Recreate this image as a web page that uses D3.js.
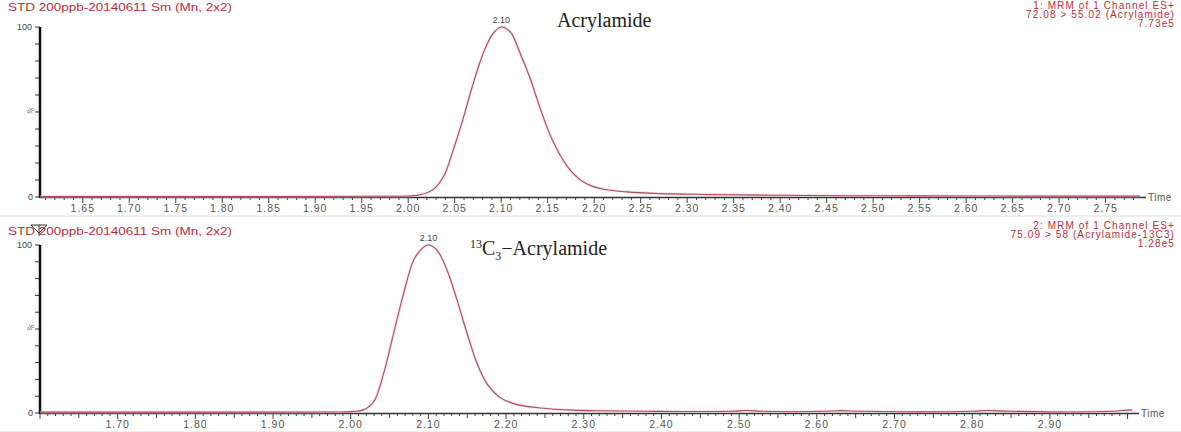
<!DOCTYPE html>
<html><head><meta charset="utf-8">
<script src="https://cdn.jsdelivr.net/npm/d3@7/dist/d3.min.js"></script>
<style>body{margin:0;background:#fff}svg{display:block}</style>
</head><body><svg id="c" width="1181" height="432"></svg>
<script>
// ---- data ----
const topTime = [1.604,1.80,1.98,2.000,2.013,2.027,2.038,2.048,2.059,2.070,2.081,2.091,2.100,2.110,2.120,2.131,2.142,2.153,2.163,2.174,2.188,2.206,2.235,2.271,2.32,2.40,2.50,2.60,2.70,2.787];
const topVals = [0.3,0.3,0.4,0.6,1.3,4.5,12,27,46,67,85,96,100,97,85,70,52,36,25,16,9,5,3,2,1.5,1.0,0.7,0.6,0.5,0.5];
const botTime = [1.60,1.80,1.98,2.00,2.017,2.030,2.042,2.055,2.068,2.081,2.092,2.100,2.111,2.124,2.137,2.150,2.163,2.176,2.193,2.214,2.244,2.287,2.321,2.38,2.49,2.51,2.53,2.61,2.63,2.66,2.80,2.82,2.85,2.98,3.00,3.006];
const botVals = [0.5,0.5,0.6,0.8,2,7,23,47,71,91,98,100,97,85,67,47,29,17,9,5,3,1.7,1.3,1.0,1.0,1.5,1.0,1.0,1.4,1.0,1.0,1.5,1.0,1.0,1.7,1.7];
const topTicks = ["1.65","1.70","1.75","1.80","1.85","1.90","1.95","2.00","2.05","2.10","2.15","2.20","2.25","2.30","2.35","2.40","2.45","2.50","2.55","2.60","2.65","2.70","2.75"];
const botTicks = ["1.70","1.80","1.90","2.00","2.10","2.20","2.30","2.40","2.50","2.60","2.70","2.80","2.90"];
const headerLeft = "STD 200ppb-20140611 Sm (Mn, 2x2)";
const topRight = ["1: MRM of 1 Channel ES+","72.08 > 55.02 (Acrylamide)","7.73e5"];
const botRight = ["2: MRM of 1 Channel ES+","75.09 > 58 (Acrylamide-13C3)","1.28e5"];
const peakLabel = "2.10";

const svg = d3.select("#c");
const red = "#b8303a";
const lineCol = "#b34a5a";
const sans = "Liberation Sans, Arial, sans-serif";

function panel(o){
  const g = svg.append("g");
  const x = d3.scaleLinear().domain(o.xdom).range([40, o.xend]);
  const y = d3.scaleLinear().domain([0,100]).range([o.y0, o.y1]);
  // header
  g.append("text").attr("x",8).attr("y",o.hy).attr("fill",red).attr("font-family",sans).attr("font-size",10).attr("textLength",224).attr("lengthAdjust","spacingAndGlyphs").text(headerLeft);
  o.right.forEach((t,i)=>{
    g.append("text").attr("x",1175).attr("y",o.ry+i*9).attr("text-anchor","end").attr("fill",red).attr("font-family",sans).attr("font-size",10).attr("letter-spacing",1.1).text(t);
  });
  // minor ticks
  const minor = d3.range(Math.ceil(o.xdom[0]*100), Math.floor(o.xdom[1]*100)+1).map(d=>d/100);
  g.append("g").selectAll("line").data(minor).join("line")
    .attr("x1",d=>x(d)).attr("x2",d=>x(d)).attr("y1",o.y0).attr("y2",d=>{
      const h = Math.round(d*100);
      if (h % o.majorStep===0) return o.y0+6;
      if (h % 5===0) return o.y0+5;
      return o.y0+3;})
    .attr("stroke","#444").attr("stroke-width",1);
  // x axis line
  g.append("line").attr("x1",40).attr("x2",o.xend+6).attr("y1",o.y0+0.5).attr("y2",o.y0+0.5).attr("stroke","#333").attr("stroke-width",1.5);
  // tick labels
  g.append("g").selectAll("text").data(o.ticks).join("text")
    .attr("x",d=>x(+d)).attr("y",o.y0+15).attr("text-anchor","middle").attr("fill","#555")
    .attr("font-family",sans).attr("font-size",10.5).attr("letter-spacing",1).text(d=>d);
  g.append("text").attr("x",o.xend+8).attr("y",o.y0+4).attr("fill","#555").attr("font-family",sans).attr("font-size",10).attr("letter-spacing",0.5).text("Time");
  // y axis
  g.append("g").selectAll("line").data(d3.range(0,101,10)).join("line")
    .attr("x1",35).attr("x2",40).attr("y1",d=>y(d)).attr("y2",d=>y(d)).attr("stroke","#333");
  g.append("line").attr("x1",40).attr("x2",40).attr("y1",o.y1).attr("y2",o.y0+1).attr("stroke","#111").attr("stroke-width",2.5);
  g.append("text").attr("x",32).attr("y",y(100)+3).attr("text-anchor","end").attr("fill","#444").attr("font-family",sans).attr("font-size",9).text("100");
  g.append("text").attr("x",33).attr("y",y(0)+3).attr("text-anchor","end").attr("fill","#444").attr("font-family",sans).attr("font-size",9).text("0");
  g.append("text").attr("transform",`translate(33,${y(50)}) rotate(-60)`).attr("text-anchor","middle").attr("fill","#666").attr("font-family",sans).attr("font-size",8).text("%");
  // trace
  const line = d3.line().x((d,i)=>x(o.t[i])).y(d=>y(d)).curve(d3.curveCatmullRom.alpha(0.5));
  g.append("path").datum(o.v).attr("d",line).attr("fill","none").attr("stroke","#ecc0c8").attr("stroke-width",2.6).attr("opacity",0.5);
  g.append("path").datum(o.v).attr("d",line).attr("fill","none").attr("stroke",lineCol).attr("stroke-width",1.1);
  // peak label
  const pk = o.v.indexOf(d3.max(o.v));
  g.append("text").attr("x",x(o.t[pk])).attr("y",y(100)-4).attr("text-anchor","middle").attr("fill","#444").attr("font-family",sans).attr("font-size",9).text(peakLabel);
  // separator
  g.append("line").attr("x1",0).attr("x2",1181).attr("y1",o.y0+19).attr("y2",o.y0+19).attr("stroke","#ddd");
  return {x,y,g};
}

const p1 = panel({xdom:[1.604,2.787], xend:1140, y0:197, y1:27, hy:11, ry:9, right:topRight, ticks:topTicks, majorStep:5, t:topTime, v:topVals});
const p2 = panel({xdom:[1.60,3.007], xend:1133, y0:413, y1:245, hy:235, ry:229, right:botRight, ticks:botTicks, majorStep:10, t:botTime, v:botVals});

// compound titles
svg.append("text").attr("x",557).attr("y",27).attr("font-family","Liberation Serif, DejaVu Serif, serif").attr("font-size",20).attr("fill","#222").text("Acrylamide");
const t2 = svg.append("text").attr("x",470).attr("y",255).attr("font-family","Liberation Serif, DejaVu Serif, serif").attr("font-size",20).attr("fill","#222");
t2.append("tspan").attr("font-size",12).attr("dy",-7).text("13");
t2.append("tspan").attr("dy",7).text("C");
t2.append("tspan").attr("font-size",12).attr("dy",5).text("3");
t2.append("tspan").attr("dy",-5).text("−Acrylamide");

// small marker over bottom header
svg.append("path").attr("d","M31,225 L47,225 L39,233 Z M39,225 L39,236").attr("fill","none").attr("stroke","#333").attr("stroke-width",1);
</script></body></html>
